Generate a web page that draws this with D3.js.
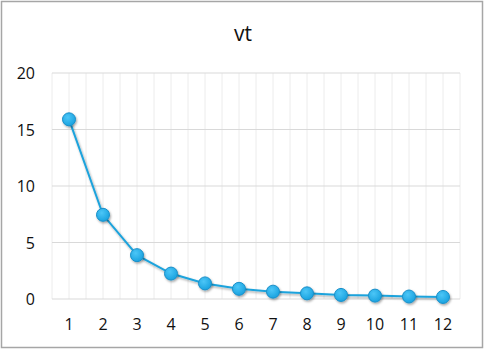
<!DOCTYPE html>
<html><head><meta charset="utf-8">
<script src="https://cdn.jsdelivr.net/npm/d3@7"></script>
<style>body{margin:0;background:#fff}svg{display:block}</style>
</head><body>
<script>
const categories = [1,2,3,4,5,6,7,8,9,10,11,12];
const values = [15.9,7.45,3.88,2.25,1.38,0.9,0.65,0.5,0.36,0.3,0.22,0.18];
const yTicks = [0,5,10,15,20];
const title = "vt";

(function(){
const W = 485, H = 350;
const svg = d3.select("body").append("svg").attr("width", W).attr("height", H);
const defs = svg.append("defs");
const f = defs.append("filter").attr("id","sh").attr("x","-50%").attr("y","-50%").attr("width","200%").attr("height","200%");
f.append("feDropShadow").attr("dx",1).attr("dy",1.5).attr("stdDeviation",1.2).attr("flood-color","#000").attr("flood-opacity",0.35);
const g = defs.append("radialGradient").attr("id","mk").attr("cx","40%").attr("cy","35%").attr("r","65%");
g.append("stop").attr("offset","0%").attr("stop-color","#4cc6f7");
g.append("stop").attr("offset","100%").attr("stop-color","#1aa3e0");

svg.append("rect").attr("x",1.5).attr("y",1.5).attr("width",481).attr("height",346)
  .attr("fill","#fff").attr("stroke","#a6a6a6").attr("stroke-width",1.5);

const pL = 52, pR = 460, pT = 73, pB = 299;
const x = d3.scaleBand().domain(categories).range([pL, pR]);
const y = d3.scaleLinear().domain([0,20]).range([pB, pT]);

const vg = [];
categories.forEach(c => { vg.push(x(c)); vg.push(x(c) + x.bandwidth()/2); });
vg.push(pR);
svg.append("g").selectAll("line").data(vg).join("line")
  .attr("x1", d=>d).attr("x2", d=>d).attr("y1", pT).attr("y2", pB)
  .attr("stroke","#ececec").attr("stroke-width",1);

svg.append("g").selectAll("line").data(yTicks).join("line")
  .attr("x1", pL).attr("x2", pR).attr("y1", d=>y(d)).attr("y2", d=>y(d))
  .attr("stroke","#d9d9d9").attr("stroke-width",1);

const font = "'Open Sans', 'Liberation Sans', sans-serif";
svg.append("text").attr("x", 243).attr("y", 41).attr("text-anchor","middle")
  .attr("font-family", font).attr("font-size", 21).attr("fill","#111").text(title);

const yAxis = d3.axisLeft(y).tickValues(yTicks).tickSize(0).tickPadding(0);
const ya = svg.append("g").attr("transform", `translate(${pL-17},0)`).call(yAxis);
ya.select(".domain").remove();
ya.selectAll("text").attr("font-family", font).attr("font-size", 16).attr("fill","#111").attr("dy","0.35em");

const xAxis = d3.axisBottom(x).tickSize(0).tickPadding(0);
const xa = svg.append("g").attr("transform", `translate(0,${pB+31})`).call(xAxis);
xa.select(".domain").remove();
xa.selectAll("text").attr("font-family", font).attr("font-size", 16).attr("fill","#111").attr("dy","0");

const line = d3.line().x((d,i)=>x(categories[i])+x.bandwidth()/2).y(d=>y(d));
svg.append("path").datum(values).attr("d", line).attr("fill","none")
  .attr("stroke","#1ea3dc").attr("stroke-width",2).attr("filter","url(#sh)");

svg.append("g").selectAll("circle").data(values).join("circle")
  .attr("cx",(d,i)=>x(categories[i])+x.bandwidth()/2).attr("cy", d=>y(d)).attr("r",6.5)
  .attr("fill","url(#mk)").attr("stroke","#1a8fc8").attr("stroke-width",1).attr("filter","url(#sh)");
})();
</script>
</body></html>
